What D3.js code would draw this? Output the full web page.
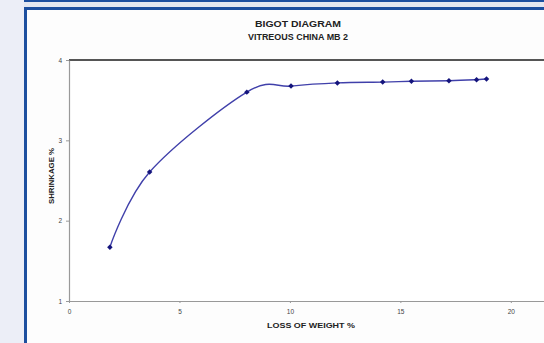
<!DOCTYPE html>
<html>
<head>
<meta charset="utf-8">
<script src="https://cdn.jsdelivr.net/npm/d3@7"></script>
<style>
  body { margin: 0; background: #eceef7; overflow: hidden; }
  text { font-family: "Liberation Sans", Arial, sans-serif; }
</style>
</head>
<body>
<div id="content"></div>
<script>
// loss of weight % vs shrinkage %
var lossOfWeight = [1.85, 3.65, 8.05, 10.05, 12.15, 14.2, 15.5, 17.2, 18.45, 18.9];
var shrinkage    = [1.67, 2.605, 3.60, 3.675, 3.715, 3.725, 3.735, 3.742, 3.755, 3.763];
var xTicks = [0, 5, 10, 15, 20];
var yTicks = [1, 2, 3, 4];

var width = 544, height = 343;

var svg = d3.select("#content").append("svg")
              .attr("width", width)
              .attr("height", height);

// page frame bits (screenshot surroundings)
svg.append("rect").attr("x",0).attr("y",0).attr("width",width).attr("height",height).attr("fill","#eceef7");
svg.append("rect").attr("x",24).attr("y",0).attr("width",width-24).attr("height",2).attr("fill","#1d4f9f");
svg.append("rect").attr("x",24).attr("y",2).attr("width",width-24).attr("height",5).attr("fill","#e4e7f0");
svg.append("rect").attr("x",24).attr("y",7).attr("width",width-24).attr("height",height-7).attr("fill","#1d4f9f");
svg.append("rect").attr("x",27).attr("y",10).attr("width",width-27).attr("height",height-10).attr("fill","#fdfdfd");

var x = d3.scaleLinear().domain([0, 22]).range([69, 555]);
var y = d3.scaleLinear().domain([1, 4]).range([301, 60]);

svg.append("rect")
    .attr("x", 69).attr("y", 60)
    .attr("width", 555-69).attr("height", 301-60)
    .attr("fill", "#ffffff");

// top border of plot area
svg.append("line")
    .attr("x1", 69).attr("x2", 560)
    .attr("y1", 60).attr("y2", 60)
    .attr("stroke", "#555").attr("stroke-width", 2);

var xAxis = svg.append("g")
    .attr("transform", "translate(0,301)")
    .call(d3.axisBottom(x).tickValues(xTicks).tickFormat(d3.format("d")).tickSize(2).tickPadding(6).tickSizeOuter(0));
var yAxis = svg.append("g")
    .attr("transform", "translate(69,0)")
    .call(d3.axisLeft(y).tickValues(yTicks).tickFormat(d3.format("d")).tickSize(3).tickPadding(4).tickSizeOuter(0));

[xAxis, yAxis].forEach(function(a) {
  a.select(".domain").attr("stroke", "#999").attr("stroke-width", 1.2);
  a.selectAll(".tick line").attr("stroke", "#999");
  a.selectAll(".tick text").attr("fill", "#444").style("font-size", "6.5px");
});

var points = lossOfWeight.map(function(d, i) { return [d, shrinkage[i]]; });

var line = d3.line()
    .x(function(d) { return x(d[0]); })
    .y(function(d) { return y(d[1]); })
    .curve(d3.curveCardinal.tension(0));

svg.append("path")
    .datum(points)
    .attr("d", line)
    .attr("fill", "none")
    .attr("stroke", "#4040aa")
    .attr("stroke-width", 1.4);

// diamonds = squares turned 45 degrees
svg.selectAll(".marker")
    .data(points)
    .enter().append("path")
    .attr("class", "marker")
    .attr("d", d3.symbol().type(d3.symbolSquare).size(15))
    .attr("transform", function(d) { return "translate(" + x(d[0]) + "," + y(d[1]) + ") rotate(45)"; })
    .attr("fill", "#14147c");

// titles
svg.append("text")
    .attr("x", 298).attr("y", 27)
    .attr("text-anchor", "middle")
    .style("font-size", "9.5px").style("font-weight", "bold").attr("fill", "#222")
    .attr("textLength", 86).attr("lengthAdjust", "spacingAndGlyphs")
    .text("BIGOT DIAGRAM");
svg.append("text")
    .attr("x", 298).attr("y", 39.5)
    .attr("text-anchor", "middle")
    .style("font-size", "9.5px").style("font-weight", "bold").attr("fill", "#222")
    .attr("textLength", 100).attr("lengthAdjust", "spacingAndGlyphs")
    .text("VITREOUS CHINA MB 2");

svg.append("text")
    .attr("x", 311).attr("y", 328)
    .attr("text-anchor", "middle")
    .style("font-size", "8px").style("font-weight", "bold").attr("fill", "#222")
    .attr("textLength", 88).attr("lengthAdjust", "spacingAndGlyphs")
    .text("LOSS OF WEIGHT %");

svg.append("text")
    .attr("transform", "translate(54,176) rotate(-90)")
    .attr("text-anchor", "middle")
    .style("font-size", "8px").style("font-weight", "bold").attr("fill", "#222")
    .attr("textLength", 56).attr("lengthAdjust", "spacingAndGlyphs")
    .text("SHRINKAGE %");
</script>
</body>
</html>
